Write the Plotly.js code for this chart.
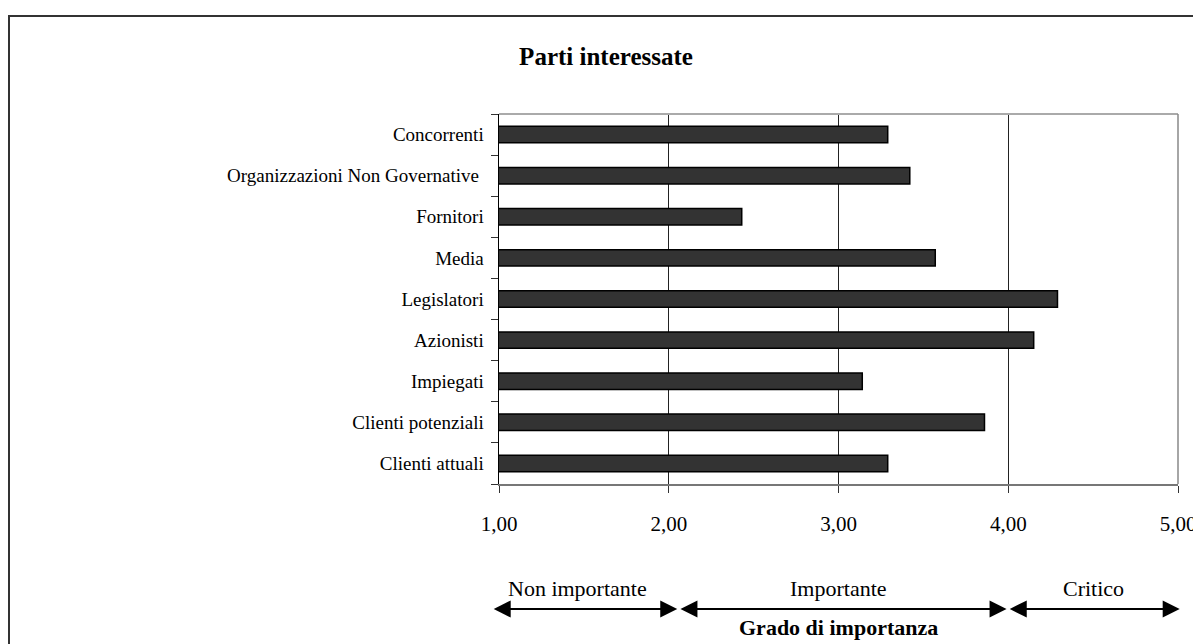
<!DOCTYPE html>
<html>
<head>
<meta charset="utf-8">
<script src="https://cdn.plot.ly/plotly-3.0.1.min.js"></script>
<style>html,body{margin:0;padding:0;background:#fff;}#chart{width:1193px;height:644px;}</style>
</head>
<body>
<div id="chart"></div>
<script>
// Categories (bottom to top as drawn)
var categories = ['Clienti attuali', 'Clienti potenziali', 'Impiegati', 'Azionisti', 'Legislatori', 'Media', 'Fornitori', 'Organizzazioni Non Governative\u00a0', 'Concorrenti'];
var values = [3.29, 3.86, 3.14, 4.15, 4.29, 3.57, 2.43, 3.42, 3.29];
var xTicks = [1, 2, 3, 4, 5];
var xTickText = ['1,00', '2,00', '3,00', '4,00', '5,00'];
var bandLabels = ['Non importante', 'Importante', 'Critico'];
var bandLabelX = [1.46, 3.0, 4.50];
var bandStart = [0.96, 2.06, 4.0];
var bandEnd = [2.05, 3.99, 5.01];

var FONT = 'Liberation Serif, Times New Roman, serif';

var trace = {
  type: 'bar',
  orientation: 'h',
  y: categories,
  x: values,
  marker: {color: '#333333', line: {color: '#000000', width: 1.5}},
  hoverinfo: 'skip'
};

var annotations = [];
for (var i = 0; i < bandLabels.length; i++) {
  annotations.push({
    xref: 'x', yref: 'paper', x: bandLabelX[i], y: (484 - 588) / 370,
    text: bandLabels[i], showarrow: false,
    font: {family: FONT, size: 22, color: '#000'}, xanchor: 'center', yanchor: 'middle'
  });
  annotations.push({
    xref: 'x', yref: 'paper', x: bandEnd[i], y: (484 - 609) / 370,
    axref: 'x', ax: bandStart[i], ay: 0,
    text: '', showarrow: true, arrowside: 'end+start',
    arrowhead: 2, startarrowhead: 2, arrowsize: 1.7, startarrowsize: 1.7,
    arrowwidth: 2, arrowcolor: '#000'
  });
}
annotations.push({
  xref: 'x', yref: 'paper', x: 3.0, y: (484 - 627) / 370,
  text: '<b>Grado di importanza</b>', showarrow: false,
  font: {family: FONT, size: 22, color: '#000'}, xanchor: 'center', yanchor: 'middle'
});

var layout = {
  width: 1193, height: 644,
  margin: {l: 499, r: 15, t: 114, b: 160},
  paper_bgcolor: '#ffffff', plot_bgcolor: '#ffffff',
  showlegend: false,
  bargap: 0.6,
  title: {text: '<b>Parti interessate</b>', x: 606/1193, xanchor: 'center', y: 1 - 56/644, yanchor: 'middle',
          font: {family: FONT, size: 25, color: '#000'}},
  font: {family: FONT, size: 18, color: '#000'},
  xaxis: {
    range: [1, 5], tickmode: 'array',
    tickvals: xTicks, ticktext: xTickText,
    showgrid: true, gridcolor: '#222', gridwidth: 1,
    showline: true, linecolor: '#777', linewidth: 2,
    ticks: 'outside', ticklen: 7, tickcolor: '#333', tickwidth: 1,
    ticklabelstandoff: 13, ticklabeloverflow: 'allow',
    tickfont: {family: FONT, size: 21, color: '#000'},
    zeroline: false, fixedrange: true
  },
  yaxis: {
    type: 'category', categoryorder: 'array', categoryarray: categories,
    tickson: 'boundaries', ticks: 'outside', ticklen: 7, tickcolor: '#333', tickwidth: 1,
    showline: true, linecolor: '#000', linewidth: 1.5,
    showgrid: false, ticklabelstandoff: 10,
    tickfont: {family: FONT, size: 19, color: '#000'},
    fixedrange: true
  },
  shapes: [
    {type: 'line', xref: 'x domain', yref: 'y domain', x0: 0, x1: 1, y0: 1, y1: 1, line: {color: '#aaaaaa', width: 2}},
    {type: 'line', xref: 'x domain', yref: 'y domain', x0: 1, x1: 1, y0: 0, y1: 1, line: {color: '#888888', width: 1.5}},
    {type: 'rect', xref: 'paper', yref: 'paper', x0: (9-499)/679, x1: 1.2, y0: -0.7, y1: (484-16)/370,
     line: {color: '#333333', width: 2}, fillcolor: 'rgba(0,0,0,0)', layer: 'below'}
  ],
  annotations: annotations
};

Plotly.newPlot('chart', [trace], layout, {displayModeBar: false, staticPlot: true});
</script>
</body>
</html>
